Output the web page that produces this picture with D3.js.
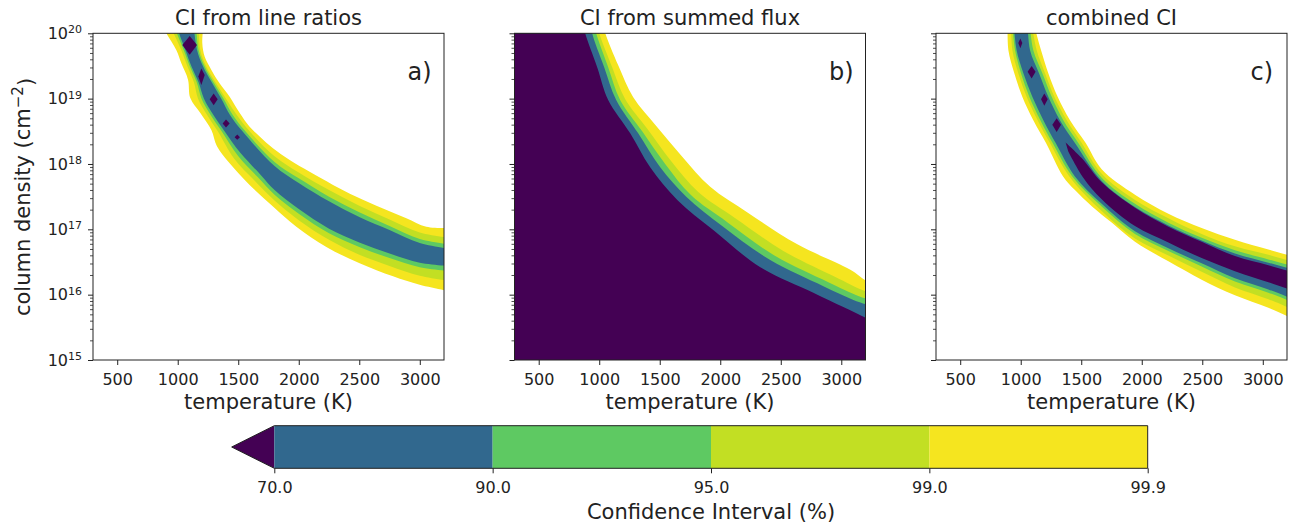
<!DOCTYPE html>
<html>
<head>
<meta charset="utf-8">
<script src="https://cdn.jsdelivr.net/npm/d3@7"></script>
<style>
  body { margin: 0; background: #fff; }
  svg { display: block; font-family: "DejaVu Sans", sans-serif; }
</style>
</head>
<body>
<svg id="fig" width="1292" height="525"></svg>
<script>
// ---------- axes ----------
const tempRange = [300, 3200];            // K
const tempTicks = [500, 1000, 1500, 2000, 2500, 3000];
const densityRange = [1e15, 1e20];        // cm^-2
const densityDecades = [1e15, 1e16, 1e17, 1e18, 1e19, 1e20];

// ---------- confidence levels ----------
const ciLevels = [70, 90, 95, 99, 99.9];
const ciColors = ["#31688e", "#5ec962", "#c2df23", "#f5e51f"]; // 70-90, 90-95, 95-99, 99-99.9
const belowColor = "#440154";                                  // < 70

// Contour edges as [temperature (K), log10 column density].
// Bands: [low/left edge from top to right, high/right edge from right back to top]

// a) CI from line ratios
const lineRatio999 = [
  [[865,20.15],[906,20.00],[989,19.74],[1030,19.54],[1085,19.29],[1104,19.01],[1187,18.78],[1278,18.52],[1324,18.27],[1429,18.01],[1594,17.68],[1787,17.35],[1980,17.04],[2228,16.73],[2503,16.48],[2779,16.28],[2999,16.15],[3247,16.05]],
  [[3247,17.02],[3054,17.04],[2889,17.17],[2696,17.32],[2476,17.50],[2283,17.68],[2090,17.88],[1925,18.06],[1787,18.24],[1677,18.42],[1594,18.57],[1512,18.78],[1429,19.03],[1347,19.23],[1278,19.44],[1223,19.64],[1203,19.85],[1214,20.15]]];
const lineRatio99 = [
  [[928,20.15],[1028,19.75],[1079,19.50],[1134,19.25],[1168,19.00],[1243,18.75],[1331,18.50],[1467,18.08],[1632,17.75],[1800,17.44],[2000,17.14],[2250,16.84],[2500,16.61],[2750,16.44],[3000,16.29],[3247,16.21]],
  [[3247,16.87],[3000,16.95],[2750,17.15],[2500,17.36],[2250,17.60],[2000,17.87],[1800,18.12],[1594,18.50],[1488,18.75],[1399,19.00],[1312,19.25],[1234,19.50],[1186,19.75],[1172,20.15]]];
const lineRatio95 = [
  [[959,20.15],[1048,19.75],[1099,19.50],[1157,19.25],[1197,19.00],[1272,18.75],[1363,18.50],[1496,18.13],[1661,17.80],[1800,17.53],[2000,17.24],[2250,16.94],[2500,16.73],[2750,16.56],[3000,16.42],[3247,16.36]],
  [[3247,16.77],[3000,16.85],[2750,17.05],[2500,17.26],[2250,17.50],[2000,17.78],[1800,18.03],[1559,18.50],[1455,18.75],[1379,19.00],[1296,19.25],[1221,19.50],[1172,19.75],[1151,20.15]]];
const lineRatio90 = [
  [[980,20.15],[1062,19.75],[1112,19.50],[1172,19.25],[1217,19.00],[1295,18.75],[1387,18.50],[1517,18.17],[1682,17.84],[1800,17.60],[2000,17.31],[2250,17.01],[2500,16.80],[2750,16.63],[3000,16.49],[3247,16.44]],
  [[3247,16.70],[3000,16.79],[2750,16.99],[2500,17.19],[2250,17.43],[2000,17.71],[1800,17.97],[1535,18.50],[1432,18.75],[1360,19.00],[1281,19.25],[1208,19.50],[1159,19.75],[1130,20.15]]];
const lineRatioSpots = [
  [[1099,19.96],[1159,19.82],[1099,19.67],[1038,19.82]],
  [[1195,19.46],[1223,19.36],[1195,19.21],[1170,19.34]],
  [[1297,19.08],[1330,18.99],[1297,18.90],[1264,18.99]],
  [[1399,18.68],[1429,18.62],[1399,18.56],[1371,18.62]],
  [[1492,18.45],[1514,18.41],[1492,18.37],[1470,18.41]]
];

// b) CI from summed flux: everything below/left of each edge lies inside the level
const summedFlux70  = [[868,20.13],[884,20.00],[983,19.48],[1074,18.98],[1256,18.47],[1421,17.95],[1645,17.45],[1942,16.99],[2331,16.42],[2769,16.03],[3017,15.81],[3240,15.61]];
const summedFlux90  = [[934,20.13],[942,20.00],[1041,19.48],[1140,18.98],[1322,18.47],[1504,17.95],[1719,17.50],[2016,17.05],[2413,16.53],[2852,16.13],[3100,15.92],[3240,15.83]];
const summedFlux95  = [[959,20.13],[975,20.00],[1074,19.48],[1173,18.98],[1355,18.50],[1545,18.00],[1760,17.52],[2058,17.11],[2455,16.59],[2893,16.19],[3141,15.98],[3240,15.92]];
const summedFlux99  = [[983,20.13],[1000,20.00],[1107,19.48],[1215,18.99],[1397,18.54],[1595,18.04],[1818,17.57],[2124,17.17],[2521,16.67],[2951,16.27],[3174,16.07],[3240,16.03]];
const summedFlux999 = [[1033,20.13],[1050,20.00],[1157,19.51],[1281,19.02],[1471,18.58],[1686,18.11],[1917,17.65],[2231,17.25],[2637,16.77],[3075,16.38],[3207,16.21],[3240,16.19]];
const summedFluxCorner = [[3500,14.5],[100,14.5],[100,20.5]];

// c) combined CI
const combined999 = [
  [[892,20.15],[898,19.74],[947,19.39],[1013,19.03],[1104,18.67],[1209,18.32],[1350,17.81],[1448,17.60],[1589,17.35],[1754,17.10],[1944,16.81],[2220,16.51],[2495,16.23],[2770,15.99],[3046,15.80],[3239,15.64]],
  [[3239,16.59],[3046,16.69],[2770,16.84],[2495,17.02],[2220,17.24],[1944,17.53],[1669,17.92],[1537,18.32],[1407,18.67],[1305,19.03],[1228,19.39],[1168,19.74],[1107,20.15]]];
const combined99 = [
  [[920,20.15],[931,19.74],[980,19.39],[1049,19.03],[1140,18.67],[1242,18.32],[1402,17.81],[1669,17.28],[1944,16.86],[2220,16.60],[2495,16.35],[2770,16.11],[3046,15.93],[3239,15.78]],
  [[3239,16.51],[3046,16.61],[2770,16.74],[2495,16.93],[2220,17.17],[1944,17.45],[1669,17.85],[1504,18.32],[1380,18.67],[1278,19.03],[1201,19.39],[1132,19.74],[1090,20.15]]];
const combined95 = [
  [[931,20.15],[953,19.74],[1002,19.39],[1071,19.03],[1162,18.67],[1264,18.32],[1426,17.81],[1669,17.35],[1944,16.93],[2220,16.67],[2495,16.43],[2770,16.20],[3046,16.03],[3239,15.89]],
  [[3239,16.44],[3046,16.54],[2770,16.68],[2495,16.87],[2220,17.10],[1944,17.39],[1669,17.79],[1476,18.32],[1352,18.67],[1256,19.03],[1179,19.39],[1104,19.74],[1074,20.15]]];
const combined90 = [
  [[942,20.15],[966,19.74],[1022,19.39],[1096,19.03],[1187,18.67],[1289,18.32],[1448,17.81],[1669,17.39],[1944,16.97],[2220,16.71],[2495,16.48],[2770,16.25],[3046,16.08],[3239,15.94]],
  [[3239,16.39],[3046,16.49],[2770,16.63],[2495,16.83],[2220,17.06],[1944,17.34],[1669,17.74],[1448,18.32],[1324,18.67],[1228,19.03],[1151,19.39],[1077,19.74],[1057,20.15]]];
const combined70 = [
  [[1371,18.33],[1504,18.09],[1669,17.72],[1944,17.33],[2220,17.04],[2495,16.81],[2770,16.59],[3046,16.45],[3239,16.35]],
  [[3239,16.07],[3046,16.19],[2770,16.36],[2495,16.56],[2220,16.80],[1944,17.05],[1669,17.46],[1517,17.79],[1393,18.19]]];
const combinedSpots = [
  [[997,19.92],[1013,19.85],[997,19.77],[980,19.85]],
  [[1090,19.50],[1123,19.41],[1090,19.31],[1057,19.41]],
  [[1195,19.08],[1223,18.99],[1195,18.89],[1168,18.99]],
  [[1297,18.70],[1333,18.60],[1297,18.49],[1261,18.60]]
];

// ---------- layout ----------
const svg = d3.select("#fig");
const ink = "#222";
const panelLeft = [93, 514.5, 936];
const plotTop = 33.3, plotW = 351, plotH = 326.7;

const x = d3.scaleLinear().domain(tempRange).range([0, plotW]);
const y = d3.scaleLog().domain(densityRange).range([plotH, 0]);
const px = d => x(d[0]);
const py = d => y(Math.pow(10, d[1]));

const edgeLine = d3.line().x(px).y(py).curve(d3.curveCatmullRom.alpha(0.5));
const spotShape = d3.line().x(px).y(py).curve(d3.curveLinearClosed);

// band between two edges, joined by straight segments outside the plot
const bandPath = ([low, high]) => edgeLine(low) + edgeLine(high).replace(/^M/, "L") + "Z";
// region below/left of a single edge, closed through far corners
const regionPath = edge => edgeLine(edge) +
  summedFluxCorner.map(c => `L${px(c)},${py(c)}`).join("") + "Z";

const panels = [
  { title: "CI from line ratios", tag: "a)",
    levels: [lineRatio999, lineRatio99, lineRatio95, lineRatio90].map(bandPath),
    core: [], spots: lineRatioSpots, yLabels: true },
  { title: "CI from summed flux", tag: "b)",
    levels: [summedFlux999, summedFlux99, summedFlux95, summedFlux90].map(regionPath),
    core: [regionPath(summedFlux70)], spots: [], yLabels: false },
  { title: "combined CI", tag: "c)",
    levels: [combined999, combined99, combined95, combined90].map(bandPath),
    core: [bandPath(combined70)], spots: combinedSpots, yLabels: false }
];

panels.forEach((p, i) => {
  const g = svg.append("g").attr("transform", `translate(${panelLeft[i]},${plotTop})`);
  const clipId = "plotclip" + i;
  g.append("clipPath").attr("id", clipId)
    .append("rect").attr("width", plotW).attr("height", plotH);

  const body = g.append("g").attr("clip-path", `url(#${clipId})`);
  // outermost level first, each inner level painted on top
  p.levels.forEach((d, k) => {
    body.append("path").attr("d", d).attr("fill", ciColors[ciColors.length - 1 - k]);
  });
  p.core.forEach(d => body.append("path").attr("d", d).attr("fill", belowColor));
  p.spots.forEach(poly => {
    body.append("path").attr("d", spotShape(poly)).attr("fill", belowColor);
  });

  // x axis
  const xa = g.append("g").attr("transform", `translate(0,${plotH})`)
    .call(d3.axisBottom(x).tickValues(tempTicks).tickSize(5).tickPadding(9).tickFormat(d3.format("d")));
  xa.select(".domain").remove();
  xa.selectAll("line").attr("stroke", ink);
  xa.selectAll("text").attr("fill", ink).attr("font-size", 16).attr("font-family", "DejaVu Sans");

  // y axis: minor ticks
  const minorTicks = y.ticks().filter(v => !densityDecades.includes(v));
  const ym = g.append("g")
    .call(d3.axisLeft(y).tickValues(minorTicks).tickSize(3).tickFormat(""));
  ym.select(".domain").remove();
  ym.selectAll("line").attr("stroke", ink).attr("stroke-width", 0.8);

  // y axis: decades
  const ya = g.append("g")
    .call(d3.axisLeft(y).tickValues(densityDecades).tickSize(5).tickPadding(6).tickFormat(() => ""));
  ya.select(".domain").remove();
  ya.selectAll("line").attr("stroke", ink);
  if (p.yLabels) {
    ya.selectAll(".tick text").each(function (d) {
      const t = d3.select(this)
        .attr("fill", ink).attr("font-size", 16).attr("font-family", "DejaVu Sans");
      t.append("tspan").text("10");
      t.append("tspan").attr("dy", "-0.5em").attr("font-size", 11)
        .text(Math.round(Math.log10(d)));
    });
  }

  // frame
  g.append("rect").attr("width", plotW).attr("height", plotH)
    .attr("fill", "none").attr("stroke", ink).attr("stroke-width", 1);

  // title, tag, x label
  g.append("text").attr("x", plotW / 2).attr("y", 25 - plotTop)
    .attr("text-anchor", "middle").attr("font-size", 21).attr("fill", ink)
    .text(p.title);
  g.append("text").attr("x", plotW * 0.896).attr("y", 80 - plotTop)
    .attr("font-size", 24).attr("fill", ink).text(p.tag);
  g.append("text").attr("x", plotW / 2).attr("y", 409 - plotTop)
    .attr("text-anchor", "middle").attr("font-size", 21).attr("fill", ink)
    .text("temperature (K)");
});

// y label
const yl = svg.append("text")
  .attr("transform", `translate(30,197) rotate(-90)`)
  .attr("text-anchor", "middle").attr("font-size", 21).attr("fill", ink);
yl.append("tspan").text("column density (cm");
yl.append("tspan").attr("dy", "-0.45em").attr("font-size", 15).text("\u22122");
yl.append("tspan").attr("dy", "0.45em").text(")");

// ---------- colour bar ----------
const cbLeft = 274.3, cbRight = 1147.7, cbTop = 425.7, cbBottom = 468.3, cbTip = 231.7;
const cbMid = (cbTop + cbBottom) / 2;
const cb = d3.scalePoint().domain(ciLevels).range([cbLeft, cbRight]);
const cbg = svg.append("g");

cbg.append("path")
  .attr("d", `M${cbTip},${cbMid}L${cbLeft},${cbTop}L${cbLeft},${cbBottom}Z`)
  .attr("fill", belowColor);
d3.pairs(ciLevels).forEach(([a, b], i) => {
  cbg.append("rect").attr("x", cb(a)).attr("y", cbTop)
    .attr("width", cb(b) - cb(a)).attr("height", cbBottom - cbTop)
    .attr("fill", ciColors[i]);
});
cbg.append("path")
  .attr("d", `M${cbTip},${cbMid}L${cbLeft},${cbTop}L${cbRight},${cbTop}L${cbRight},${cbBottom}L${cbLeft},${cbBottom}Z`)
  .attr("fill", "none").attr("stroke", ink).attr("stroke-width", 1);

const cba = cbg.append("g").attr("transform", `translate(0,${cbBottom})`)
  .call(d3.axisBottom(cb).tickSize(5).tickPadding(8).tickFormat(d3.format(".1f")));
cba.select(".domain").remove();
cba.selectAll("line").attr("stroke", ink);
cba.selectAll("text").attr("fill", ink).attr("font-size", 16).attr("font-family", "DejaVu Sans");

svg.append("text").attr("x", (cbLeft + cbRight) / 2).attr("y", 519)
  .attr("text-anchor", "middle").attr("font-size", 21).attr("fill", ink)
  .text("Confidence Interval (%)");
</script>
</body>
</html>
